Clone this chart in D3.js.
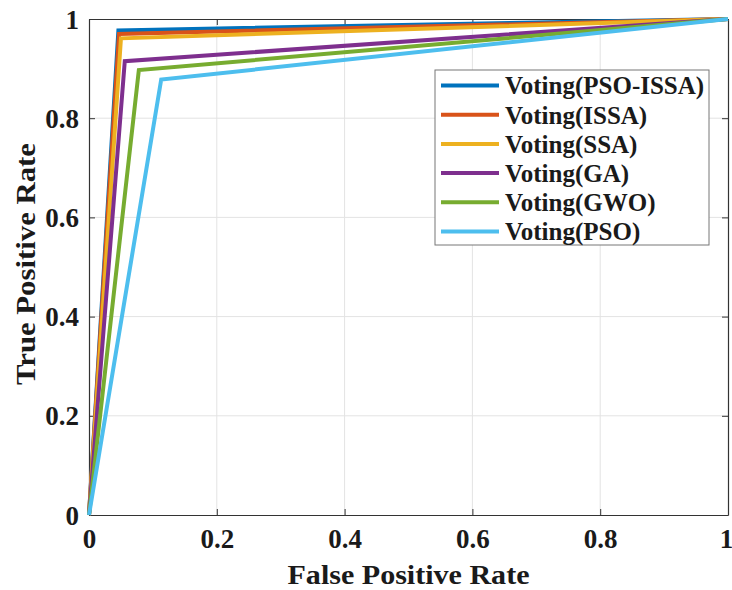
<!DOCTYPE html>
<html><head><meta charset="utf-8">
<script src="https://cdn.jsdelivr.net/npm/d3@7"></script>
<style>body{margin:0;background:#fff}svg{display:block}
svg text{font-family:"Liberation Serif","Tinos","Times New Roman","DejaVu Serif",serif !important;font-weight:bold;fill:#1a1a1a}</style>
</head><body><svg id="c" width="732" height="590"></svg>
<script>
const seriesNames = ["Voting(PSO-ISSA)","Voting(ISSA)","Voting(SSA)","Voting(GA)","Voting(GWO)","Voting(PSO)"];
const seriesColors = ["#0072BD","#D95319","#EDB120","#7E2F8E","#77AC30","#4DBEEE"];
const fprValues = [
  [0, 0.046, 1],
  [0, 0.047, 1],
  [0, 0.050, 1],
  [0, 0.056, 1],
  [0, 0.078, 1],
  [0, 0.113, 1]
];
const tprValues = [
  [0, 0.977, 1],
  [0, 0.970, 1],
  [0, 0.961, 1],
  [0, 0.915, 1],
  [0, 0.897, 1],
  [0, 0.878, 1]
];
const tickValues = [0, 0.2, 0.4, 0.6, 0.8, 1];
const tickLabels = ["0","0.2","0.4","0.6","0.8","1"];

const svg = d3.select("#c");
const L = 89, R = 728, T = 19, B = 515;
const x = d3.scaleLinear().domain([0,1]).range([L,R]);
const y = d3.scaleLinear().domain([0,1]).range([B,T]);

// grid
const g = svg.append("g");
g.selectAll(".gx").data(tickValues.slice(1,-1)).join("line")
  .attr("x1",d=>x(d)).attr("x2",d=>x(d)).attr("y1",T).attr("y2",B)
  .attr("stroke","#e3e3e3").attr("stroke-width",1);
g.selectAll(".gy").data(tickValues.slice(1,-1)).join("line")
  .attr("y1",d=>y(d)).attr("y2",d=>y(d)).attr("x1",L).attr("x2",R)
  .attr("stroke","#e3e3e3").attr("stroke-width",1);

// axes (ticks inward)
const fmt = (d)=>tickLabels[tickValues.indexOf(d)];
const xAxis = svg.append("g").attr("transform",`translate(0,${B})`)
  .call(d3.axisBottom(x).tickValues(tickValues).tickFormat(fmt).tickSizeInner(-6).tickSizeOuter(0).tickPadding(16));
const yAxis = svg.append("g").attr("transform",`translate(${L},0)`)
  .call(d3.axisLeft(y).tickValues(tickValues).tickFormat(fmt).tickSizeInner(-6).tickSizeOuter(0).tickPadding(10));
const xTop = svg.append("g").attr("transform",`translate(0,${T})`)
  .call(d3.axisTop(x).tickValues(tickValues).tickFormat("").tickSizeInner(-6).tickSizeOuter(0));
const yRight = svg.append("g").attr("transform",`translate(${R},0)`)
  .call(d3.axisRight(y).tickValues(tickValues).tickFormat("").tickSizeInner(-6).tickSizeOuter(0));
[xAxis,yAxis,xTop,yRight].forEach(a=>{
  a.attr("font-family",null).attr("font-size",null);
  a.selectAll("path").attr("stroke","#333").attr("stroke-width",1.2);
  a.selectAll("line").attr("stroke","#333").attr("stroke-width",1);
  a.selectAll("text").style("font-size","27px").attr("fill","#1a1a1a");
});
xAxis.selectAll("text").attr("dy","0.62em");
xAxis.selectAll("text").filter(d=>d===1).attr("dx","-2");
yAxis.selectAll("text").attr("dy","0.34em");

// lines
const line = d3.line().x(d=>x(d[0])).y(d=>y(d[1]));
seriesNames.forEach((n,i)=>{
  const pts = fprValues[i].map((f,j)=>[f,tprValues[i][j]]);
  svg.append("path").datum(pts).attr("d",line).attr("fill","none")
    .attr("stroke",seriesColors[i]).attr("stroke-width",4).attr("stroke-linejoin","miter");
});

// axis labels
svg.append("text").attr("x",(L+R)/2).attr("y",584).attr("text-anchor","middle")
  .style("font-size","28px").attr("textLength",242).attr("lengthAdjust","spacingAndGlyphs")
  .text("False Positive Rate");
svg.append("text").attr("transform",`translate(35,${(T+B)/2-3}) rotate(-90)`).attr("text-anchor","middle")
  .style("font-size","28px").attr("textLength",242).attr("lengthAdjust","spacingAndGlyphs")
  .text("True Positive Rate");

// legend
const lg = svg.append("g");
lg.append("rect").attr("x",435).attr("y",70).attr("width",274).attr("height",175)
  .attr("fill","#fff").attr("stroke","#777").attr("stroke-width",1);
const rowH = 175/6;
seriesNames.forEach((n,i)=>{
  const cy = 70 + rowH*(i+0.5) + 1;
  lg.append("line").attr("x1",441).attr("x2",499).attr("y1",cy).attr("y2",cy)
    .attr("stroke",seriesColors[i]).attr("stroke-width",4);
  lg.append("text").attr("x",505).attr("y",cy).attr("dy","0.35em")
    .style("font-size","25px").text(n);
});
</script></body></html>
